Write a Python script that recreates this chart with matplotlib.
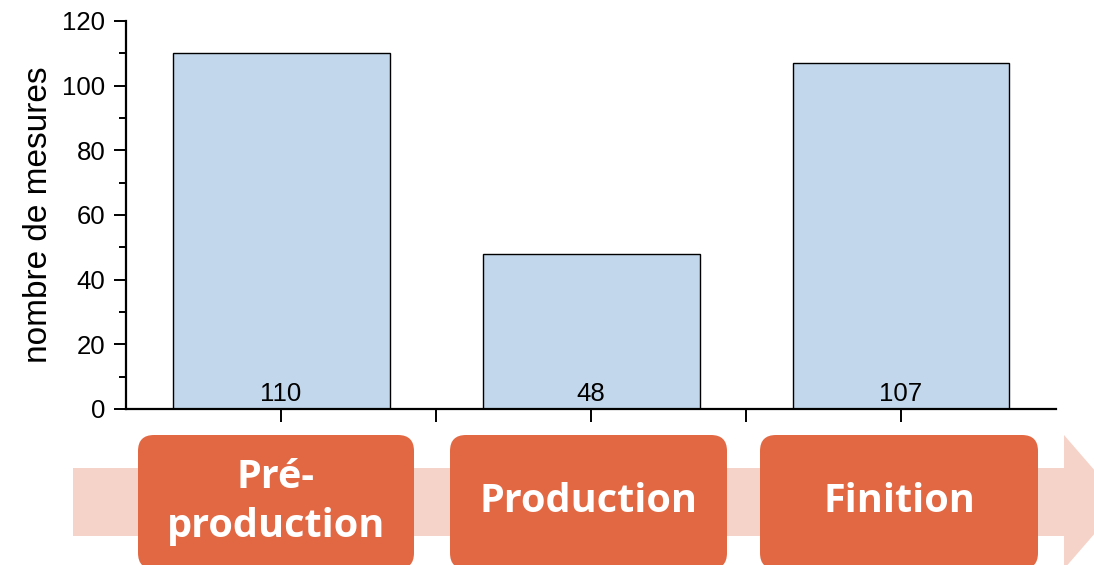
import matplotlib
matplotlib.use("Agg")
import matplotlib.pyplot as plt
from matplotlib.patches import FancyBboxPatch, Polygon
from matplotlib.ticker import MultipleLocator, FixedLocator

categories = ["Pré-\nproduction", "Production", "Finition"]
values = [110, 48, 107]
yticks = [0, 20, 40, 60, 80, 100, 120]

W, H = 1094, 565
plt.rcParams['font.family'] = ['Liberation Sans', 'DejaVu Sans']
fig = plt.figure(figsize=(W / 100, H / 100), dpi=100)

ax = fig.add_axes([126 / W, (H - 409) / H, (1056 - 126) / W, (409 - 21) / H])
x = list(range(len(values)))
bars = ax.bar(x, values, width=0.7, color="#C2D7EB", edgecolor="black", linewidth=1.0, zorder=2)
for xi, v in zip(x, values):
    ax.text(xi, 1.0, str(v), ha="center", va="bottom", fontsize=18.5, color="black", zorder=3)

ax.set_xlim(-0.5, len(values) - 0.5)
ax.set_ylim(0, 120)
ax.set_yticks(yticks)
ax.yaxis.set_minor_locator(MultipleLocator(10))
ax.set_xticks(x)
ax.set_xticklabels([])
ax.xaxis.set_minor_locator(FixedLocator([0.5, 1.5]))
ax.spines["top"].set_visible(False)
ax.spines["right"].set_visible(False)
for s in ("left", "bottom"):
    ax.spines[s].set_linewidth(1.6)
ax.tick_params(axis="y", which="major", direction="out", length=9, width=1.4, labelsize=18.5, pad=6)
ax.tick_params(axis="y", which="minor", direction="out", length=5, width=1.4)
ax.tick_params(axis="x", which="both", direction="out", length=9, width=1.4)
ax.set_ylabel("nombre de mesures", fontsize=24, labelpad=6)

# process flow graphic underneath
ov = fig.add_axes([0, 0, 1, 1], zorder=-1)
ov.set_xlim(0, W)
ov.set_ylim(H, 0)
ov.axis("off")
pink = "#F6D3C8"
orange = "#E26843"
ov.add_patch(Polygon([(73, 468), (1064, 468), (1064, 435), (1122, 502),
                      (1064, 569), (1064, 536), (73, 536)],
                     closed=True, facecolor=pink, edgecolor="none"))
box_x = [(138, 414), (450, 727), (760, 1038)]
for (x0, x1), lab in zip(box_x, categories):
    ov.add_patch(FancyBboxPatch((x0 + 16, 435 + 16), (x1 - x0) - 32, 134 - 32,
                                boxstyle="round,pad=16", facecolor=orange,
                                edgecolor="none"))
    ov.text((x0 + x1) / 2, 502, lab, ha="center", va="center", color="white",
            fontsize=28.5, fontweight="bold", family=["Open Sans", "DejaVu Sans"],
            linespacing=1.3)

fig.savefig("out.png", dpi=100)
